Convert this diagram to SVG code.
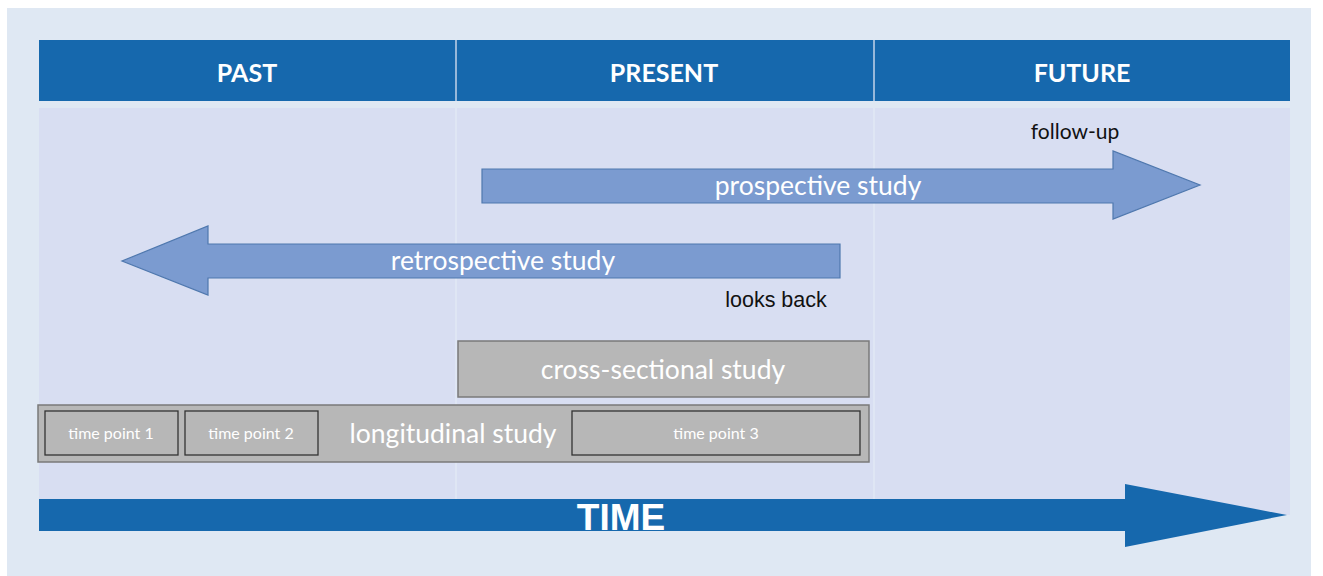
<svg xmlns="http://www.w3.org/2000/svg" width="1323" height="576" viewBox="0 0 1323 576">
<style>
.hdr{font-family:Lato,"Open Sans",sans-serif;font-weight:bold;font-size:25px;fill:#fff;text-anchor:middle}
.study{font-family:Lato,"Open Sans",sans-serif;font-size:26.5px;fill:#fff;text-anchor:middle}
.tp{font-family:Lato,"Open Sans",sans-serif;font-size:16px;fill:#fff;text-anchor:middle}
.blue{fill:#7B9BD0;stroke:#4F78AE;stroke-width:1.2}
.grey{fill:#B7B7B7;stroke:#7A7A7A;stroke-width:1.5}
.tpbox{fill:#B7B7B7;stroke:#333;stroke-width:1.3}
.note{font-family:Lato,"Open Sans",sans-serif;font-size:21px;fill:#111;text-anchor:middle}
</style>
<rect x="0" y="0" width="1323" height="576" fill="#fff"/>
<rect x="7" y="8" width="1304" height="568" fill="#DFE8F3"/>
<g id="panel">
<rect x="39" y="108" width="1251" height="407" fill="#D8DEF2"/>
<line x1="456" y1="108" x2="456" y2="515" stroke="#E2E8F5" stroke-width="1.5"/>
<line x1="874" y1="108" x2="874" y2="515" stroke="#E2E8F5" stroke-width="1.5"/>
</g>
<g id="header">
<rect x="39" y="40" width="1251" height="61" fill="#1668AD"/>
<line x1="456" y1="40" x2="456" y2="101" stroke="#C3D3EA" stroke-width="1.5"/>
<line x1="874" y1="40" x2="874" y2="101" stroke="#C3D3EA" stroke-width="1.5"/>
<text class="hdr" x="247" y="82">PAST</text>
<text class="hdr" x="664" y="82">PRESENT</text>
<text class="hdr" x="1082" y="82">FUTURE</text>
</g>
<g id="connectors">
<g id="prospective">
<polygon class="blue" points="482,169 1113,169 1113,151 1200,185 1113,219 1113,203 482,203"/>
<text class="study" x="818" y="195">prospective study</text>
<text class="note" x="1075" y="139">follow-up</text>
</g>
<g id="retrospective">
<polygon class="blue" points="840,244 208,244 208,226 122,261 208,295 208,278 840,278"/>
<text class="study" x="503" y="270">retrospective study</text>
<text x="776" y="307" font-family="Liberation Sans,Arial,sans-serif" font-size="21.5" fill="#111" text-anchor="middle">looks back</text>
</g>
<g id="time">
<polygon fill="#1668AD" points="39,499 1125,499 1125,484 1287,515 1125,547 1125,531 39,531"/>
<text x="621" y="530" font-family="Liberation Sans,Arial,sans-serif" font-weight="bold" font-size="37" fill="#fff" text-anchor="middle">TIME</text>
</g>
</g>
<g id="cross-sectional">
<rect class="grey" x="458" y="341" width="411" height="56"/>
<text class="study" x="663" y="379">cross-sectional study</text>
</g>
<g id="longitudinal">
<rect class="grey" x="38" y="405" width="831" height="57"/>
<text class="study" x="453" y="443">longitudinal study</text>
<g id="tp1"><rect class="tpbox" x="45" y="411" width="133" height="44"/><text class="tp" x="111" y="439">time point 1</text></g>
<g id="tp2"><rect class="tpbox" x="185" y="411" width="133" height="44"/><text class="tp" x="251" y="439">time point 2</text></g>
<g id="tp3"><rect class="tpbox" x="572" y="411" width="288" height="44"/><text class="tp" x="716" y="439">time point 3</text></g>
</g>
</svg>
